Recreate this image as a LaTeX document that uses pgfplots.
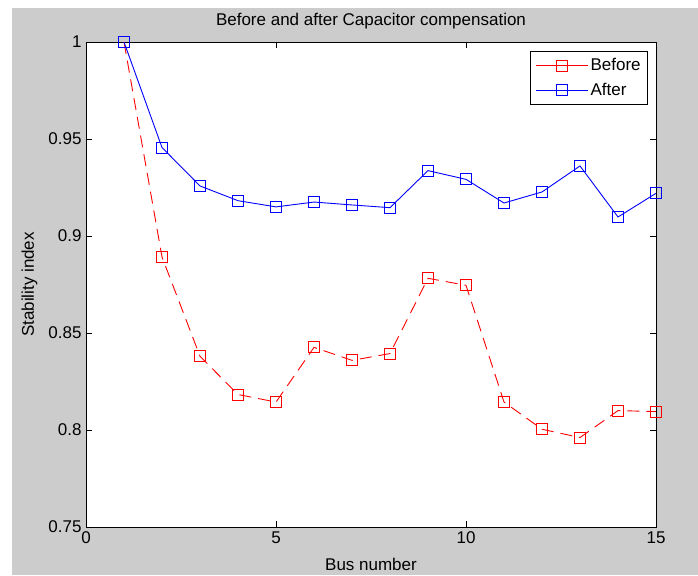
\documentclass[border=0pt]{standalone}
\usepackage{pgfplots}
\pgfplotsset{compat=1.18}
\usepackage{fontspec}
\setmainfont{Liberation Sans}
\definecolor{figgray}{RGB}{204,204,204}
\begin{document}
\begin{tikzpicture}[x=1pt,y=1pt]
\useasboundingbox (0,0) rectangle (698,575);
\fill[white] (0,0) rectangle (698,575);
\fill[figgray] (12,0) rectangle (698,567);
\begin{axis}[
  at={(86pt,48pt)}, anchor=south west,
  scale only axis, width=570pt, height=485pt,
  xmin=0, xmax=15, ymin=0.75, ymax=1,
  xtick={0,5,10,15},
  ytick={0.75,0.8,0.85,0.9,0.95,1},
  yticklabels={0.75,0.8,0.85,0.9,0.95,1},
  tick align=inside, major tick length=6pt,
  tick style={black, line width=0.8pt},
  axis line style={black, line width=0.9pt},
  axis background/.style={fill=white},
  /pgf/number format/assume math mode=true,
  ticklabel style={font=\fontsize{17}{20}\selectfont},
  xticklabel style={yshift=-1pt},
  yticklabel style={xshift=-1pt},
  title={Before and after Capacitor compensation},
  title style={font=\fontsize{17}{20}\selectfont, yshift=3pt},
  xlabel={Bus number},
  ylabel={Stability index},
  label style={font=\fontsize{17}{20}\selectfont},
  xlabel style={yshift=-8pt},
  ylabel style={yshift=4pt},
  legend style={at={(0.986,0.981)}, anchor=north east, draw=black, line width=0.8pt,
    font=\fontsize{17}{20}\selectfont, inner xsep=5pt, inner ysep=5pt, row sep=7pt,
    /tikz/every even column/.append style={column sep=4pt}},
  legend cell align=left,
  legend image code/.code={\draw[#1, solid] (0pt,0pt) -- (52pt,0pt); \draw[#1, solid] plot coordinates {(26pt,0pt)};},
]
\addplot[red, line width=0.9pt, dash pattern=on 12pt off 7pt, mark=square, mark size=5.5pt, mark options={solid, draw=red, line width=0.9pt}]
coordinates {
(1,1.0) (2,0.8892) (3,0.8380) (4,0.8183) (5,0.8144) (6,0.8426) (7,0.8359) (8,0.8394)
(9,0.8782) (10,0.8746) (11,0.8144) (12,0.8004) (13,0.7961) (14,0.8100) (15,0.8095)
};
\addlegendentry{Before}
\addplot[blue, line width=0.9pt, mark=square, mark size=5.5pt, mark options={solid, draw=blue, line width=0.9pt}]
coordinates {
(1,1.0) (2,0.9456) (3,0.9258) (4,0.9182) (5,0.9150) (6,0.9175) (7,0.9160) (8,0.9146)
(9,0.9337) (10,0.9292) (11,0.9170) (12,0.9227) (13,0.9361) (14,0.9098) (15,0.9220)
};
\addlegendentry{After}
\end{axis}
\end{tikzpicture}
\end{document}
